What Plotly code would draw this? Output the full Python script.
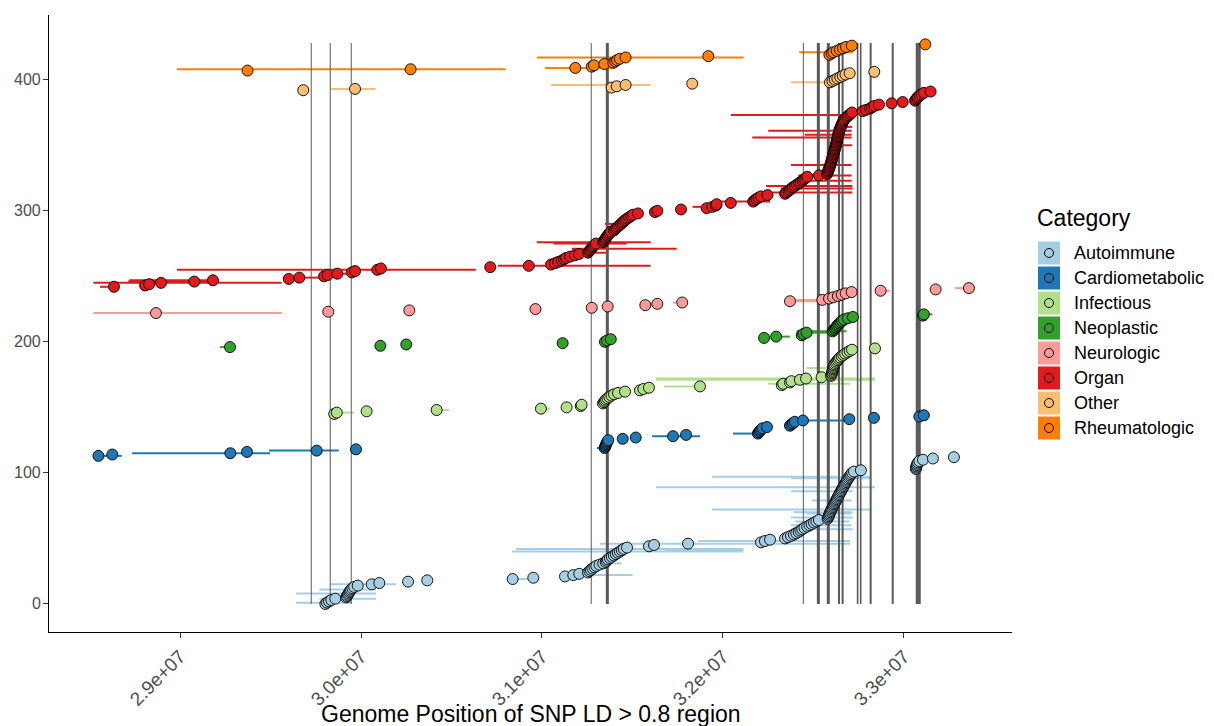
import plotly.graph_objects as go

# ---------------- data (positions in Mb; y = rank in category-sorted order) ----------------
categories = ["Autoimmune", "Cardiometabolic", "Infectious", "Neoplastic",
              "Neurologic", "Organ", "Other", "Rheumatologic"]
cat_colors = ["#A6CEE3", "#1F78B4", "#B2DF8A", "#33A02C",
              "#FB9A99", "#E31A1C", "#FDBF6F", "#FF7F00"]

auto_pos = [29.803, 29.812, 29.823, 29.836, 29.858,
            29.918, 29.922, 29.927, 29.931, 29.936, 29.940, 29.945, 29.952, 29.962, 29.982,
            30.059, 30.101, 30.260, 30.366,
            30.838, 30.952,
            31.127, 31.173, 31.206,
            31.254, 31.262, 31.270, 31.279, 31.290, 31.300, 31.318, 31.338,
            31.352, 31.358, 31.364, 31.375, 31.386, 31.397, 31.408, 31.419, 31.430, 31.441, 31.452, 31.470,
            31.591, 31.619, 31.807,
            32.210, 32.232, 32.260,
            32.343, 32.359, 32.376, 32.392, 32.405, 32.418, 32.428, 32.438, 32.450,
            32.465, 32.478, 32.490, 32.503, 32.516, 32.530,
            32.578, 32.581, 32.584, 32.587, 32.590, 32.593, 32.596, 32.600, 32.603, 32.607,
            32.611, 32.614, 32.618, 32.622, 32.626, 32.629, 32.633, 32.637, 32.641, 32.644,
            32.648, 32.652, 32.656, 32.660, 32.664, 32.668, 32.672, 32.676, 32.680, 32.684,
            32.688, 32.693, 32.698, 32.703, 32.708, 32.714,
            32.724, 32.762,
            33.066, 33.067, 33.069, 33.071, 33.074, 33.078, 33.085, 33.105,
            33.160, 33.276]
auto_seg = [(1, 29.641, 29.949), (4, 29.770, 30.083), (8, 29.641, 30.083), (11, 29.770, 30.083),
            (15, 29.833, 30.193), (19, 30.838, 30.952), (22, 31.243, 31.501), (31, 31.282, 31.440),
            (40, 30.834, 32.110), (41, 31.680, 32.116), (42, 30.856, 32.110), (46, 31.320, 32.702),
            (48, 31.862, 32.702), (57, 32.376, 32.717), (60, 32.376, 32.710), (63, 32.400, 32.700),
            (66, 32.376, 32.717), (69, 32.462, 32.710), (70, 32.390, 32.717), (72, 31.939, 32.812),
            (79, 32.490, 32.710), (86, 32.376, 32.717), (89, 31.630, 32.840), (96, 32.376, 32.812),
            (97, 31.939, 32.812)]

cardio_pos = [28.549, 28.626, 29.278, 29.370, 29.755, 29.972,
              31.346, 31.349, 31.352, 31.355, 31.358, 31.362, 31.366,
              31.446, 31.518, 31.724, 31.796,
              32.193, 32.198, 32.204, 32.210, 32.218, 32.243,
              32.370, 32.378, 32.387, 32.397, 32.442,
              32.698, 32.834, 33.085, 33.110]
cardio_seg = [(0, 28.547, 28.678), (2, 28.735, 29.497), (4, 29.492, 29.877), (6, 31.304, 31.346),
              (15, 31.608, 31.873), (17, 32.055, 32.204), (27, 32.440, 32.674), (31, 33.110, 33.135)]

inf_pos = [29.852, 29.866, 30.031, 30.418, 30.994, 31.136, 31.214, 31.219,
           31.337, 31.343, 31.348, 31.354, 31.362, 31.372, 31.384, 31.398, 31.420, 31.459,
           31.541, 31.560, 31.591, 31.873,
           32.325, 32.333, 32.370, 32.378, 32.425, 32.459, 32.545,
           32.597, 32.600, 32.602, 32.604, 32.606, 32.608, 32.610, 32.612, 32.614, 32.616,
           32.622, 32.628, 32.634, 32.640, 32.647, 32.656, 32.665, 32.675, 32.688, 32.700, 32.713,
           32.840]
inf_seg = [(1, 29.866, 29.961), (3, 30.418, 30.486), (4, 30.994, 31.044), (21, 31.674, 31.873),
           (23, 32.249, 32.702), (26, 31.630, 32.840), (27, 31.630, 32.840), (35, 32.462, 32.572)]

neo_pos = [29.276, 30.107, 30.250, 31.114, 31.348, 31.359, 31.380, 32.227, 32.294, 32.435, 32.444, 32.462,
           32.606, 32.612, 32.618, 32.624, 32.630, 32.636, 32.643, 32.650, 32.658, 32.668, 32.690, 32.718,
           33.105, 33.110]
neo_seg = [(0, 29.221, 29.276), (8, 32.294, 32.370), (11, 32.470, 32.591), (12, 32.407, 32.683),
           (25, 33.110, 33.157)]

neuro_pos = [28.867, 29.819, 30.267, 30.964, 31.275, 31.363, 31.571, 31.637, 31.775, 32.370,
             32.549, 32.586, 32.609, 32.635, 32.656, 32.678, 32.711, 32.871, 33.175, 33.359]
neuro_seg = [(0, 28.521, 29.562), (8, 31.724, 31.775), (9, 32.370, 32.525), (10, 32.392, 32.525),
             (17, 32.871, 32.923), (19, 33.282, 33.359)]

organ_pos = [28.635, 28.807, 28.830, 28.895, 29.079, 29.182, 29.601, 29.659, 29.796, 29.816,
             29.869, 29.949, 29.967, 30.090, 30.110, 30.714, 30.927,
             31.050, 31.072, 31.090, 31.109, 31.122, 31.133, 31.155, 31.182, 31.204,
             31.254, 31.260, 31.266, 31.272, 31.278, 31.284, 31.290, 31.298,
             31.337, 31.342, 31.348, 31.352, 31.357, 31.362, 31.368, 31.374, 31.381,
             31.398, 31.405, 31.412, 31.420, 31.428, 31.437, 31.444, 31.452, 31.460, 31.470,
             31.481, 31.492, 31.503, 31.530,
             31.624, 31.637, 31.768, 31.910, 31.941, 31.961, 31.965, 32.043,
             32.167, 32.175, 32.185, 32.196, 32.210, 32.246,
             32.343, 32.350, 32.362, 32.370, 32.378, 32.387, 32.398, 32.409, 32.420, 32.430,
             32.440, 32.448, 32.456, 32.466,
             32.530,
             32.575, 32.578, 32.580, 32.583, 32.586, 32.588, 32.591, 32.593, 32.596, 32.598,
             32.600, 32.602, 32.604, 32.606, 32.608, 32.610, 32.612, 32.614, 32.616, 32.618,
             32.620, 32.622, 32.624, 32.626, 32.627, 32.629, 32.631, 32.632, 32.634, 32.636,
             32.637, 32.639, 32.641, 32.643, 32.645, 32.648, 32.651, 32.654, 32.657, 32.660,
             32.663, 32.667, 32.672, 32.680, 32.688, 32.696, 32.705, 32.713,
             32.772, 32.790, 32.812, 32.823, 32.836, 32.862, 32.932, 32.993,
             33.061, 33.066, 33.073, 33.078, 33.088, 33.098, 33.110, 33.147]
organ_seg = [(0, 28.558, 28.635), (3, 28.521, 29.562), (4, 28.713, 29.215), (5, 28.720, 29.210),
             (7, 29.659, 29.829), (10, 29.829, 29.949), (13, 28.983, 30.634), (16, 30.757, 31.600),
             (26, 31.265, 31.357), (29, 31.164, 31.744), (33, 31.063, 31.468), (34, 30.971, 31.601),
             (48, 31.348, 31.420), (61, 31.832, 31.946), (65, 31.946, 32.260), (72, 32.241, 32.715),
             (75, 32.320, 32.717), (77, 32.238, 32.715), (81, 32.416, 32.711), (85, 32.416, 32.711),
             (93, 32.376, 32.711), (108, 32.646, 32.714), (114, 32.162, 32.711), (116, 32.453, 32.711),
             (119, 32.250, 32.711), (122, 32.630, 32.714), (131, 32.044, 32.711), (135, 32.790, 32.823)]

other_pos = [29.681, 29.967, 31.385, 31.413, 31.462, 31.830,
             32.591, 32.605, 32.618, 32.632, 32.648, 32.662, 32.677, 32.700, 32.836]
other_seg = [(1, 29.834, 30.081), (4, 31.050, 31.600), (6, 32.376, 32.591)]

rheum_pos = [29.373, 30.274, 31.184, 31.275, 31.287, 31.344, 31.394, 31.405, 31.415, 31.430, 31.462, 31.919,
             32.588, 32.600, 32.610, 32.628, 32.646, 32.663, 32.680, 32.712, 33.118]
rheum_seg = [(1, 28.983, 30.799), (2, 31.017, 31.403), (10, 30.972, 32.114),
             (14, 32.421, 32.717)]

# reference SNP positions (vertical lines) and their drawn widths
vline_pos = [29.725, 29.830, 29.946, 31.272, 31.361, 32.444, 32.527, 32.582,
             32.641, 32.661, 32.744, 32.761, 32.816, 32.938, 33.079]
vline_width = [1, 1, 1, 1, 3, 1, 3, 3, 2, 2, 1.6, 1.6, 2, 2, 5]

x_ticks = [29e6, 30e6, 31e6, 32e6, 33e6]
x_tick_labels = ["2.9e+07", "3.0e+07", "3.1e+07", "3.2e+07", "3.3e+07"]
y_ticks = [0, 100, 200, 300, 400]

groups = [auto_pos, cardio_pos, inf_pos, neo_pos, neuro_pos, organ_pos, other_pos, rheum_pos]
seg_groups = [auto_seg, cardio_seg, inf_seg, neo_seg, neuro_seg, organ_seg, other_seg, rheum_seg]

MB = 1e6
fig = go.Figure()

# y = running rank
starts = []
s = 0
for g in groups:
    starts.append(s)
    s += len(g)
n_total = s

# segments (LD regions)
for name, col, pos, segs, st in zip(categories, cat_colors, groups, seg_groups, starts):
    xs, ys = [], []
    for idx, lo, hi in segs:
        xs += [lo * MB, hi * MB, None]
        ys += [st + idx, st + idx, None]
    fig.add_trace(go.Scatter(x=xs, y=ys, mode="lines", line=dict(color=col, width=2),
                             showlegend=False, hoverinfo="skip"))

# vertical lines
for p, w in zip(vline_pos, vline_width):
    fig.add_trace(go.Scatter(x=[p * MB, p * MB], y=[0, n_total], mode="lines",
                             line=dict(color="#5a5a5a", width=w),
                             showlegend=False, hoverinfo="skip"))

# points
for name, col, pos, st in zip(categories, cat_colors, groups, starts):
    fig.add_trace(go.Scatter(x=[p * MB for p in pos], y=list(range(st, st + len(pos))),
                             mode="markers", name=name,
                             marker=dict(size=11, color=col, line=dict(color="black", width=0.9)),
                             showlegend=False))

# ---------------- layout ----------------
L, R, T, B = 49, 1012, 15, 632
W, H = 1214, 726


def px_x(px):
    return (px - L) / (R - L)


def px_y(py):
    return (B - py) / (B - T)


FONT = "Liberation Sans, Arial, sans-serif"
fig.update_layout(
    width=W, height=H, autosize=False,
    margin=dict(l=L, r=W - R, t=T, b=H - B, pad=0),
    paper_bgcolor="white", plot_bgcolor="white",
    font=dict(family=FONT, color="black"),
    xaxis=dict(range=[28.276e6, 33.597e6], showgrid=False, zeroline=False,
               showline=True, linecolor="black", linewidth=1.1,
               ticks="outside", ticklen=5, tickwidth=1.1, tickcolor="#333333",
               tickvals=x_ticks, ticktext=x_tick_labels, tickangle=-45,
               tickfont=dict(size=19, color="#4d4d4d", family=FONT)),
    yaxis=dict(range=[-21.4, 449.4], showgrid=False, zeroline=False,
               showline=True, linecolor="black", linewidth=1.1,
               ticks="outside", ticklen=5, tickwidth=1.1, tickcolor="#333333",
               tickvals=y_ticks, showticklabels=False),
    showlegend=False,
)

# y tick labels placed next to the ticks
for v in y_ticks:
    fig.add_annotation(text=str(v), xref="paper", yref="y", x=px_x(43), y=v,
                       xanchor="right", yanchor="middle", showarrow=False,
                       font=dict(size=16, family=FONT, color="#4d4d4d"))

# x-axis title
fig.add_annotation(text="Genome Position of SNP LD > 0.8 region", xref="paper", yref="paper",
                   x=0.5, y=px_y(714), xanchor="center", yanchor="middle", showarrow=False,
                   font=dict(size=23, family=FONT, color="black"))

# manual legend (ggplot style keys)
fig.add_annotation(text="Category", xref="paper", yref="paper",
                   x=px_x(1035), y=px_y(218), xanchor="left", yanchor="middle", showarrow=False,
                   font=dict(size=23, family=FONT, color="black"))
key_w, key_h, row_h = 22, 23, 25
for i, (name, col) in enumerate(zip(categories, cat_colors)):
    cy = 253 + i * row_h
    fig.add_shape(type="rect", xref="paper", yref="paper",
                  x0=px_x(1038), x1=px_x(1038 + key_w), y0=px_y(cy - key_h / 2), y1=px_y(cy + key_h / 2),
                  fillcolor=col, line=dict(width=0))
    fig.add_shape(type="circle", xref="paper", yref="paper",
                  x0=px_x(1049 - 4.5), x1=px_x(1049 + 4.5), y0=px_y(cy - 4.5), y1=px_y(cy + 4.5),
                  fillcolor="rgba(0,0,0,0)", line=dict(color="black", width=1))
    fig.add_annotation(text=name, xref="paper", yref="paper",
                       x=px_x(1072), y=px_y(cy), xanchor="left", yanchor="middle", showarrow=False,
                       font=dict(size=18, family=FONT, color="black"))

fig.write_html("out.html", config={"displayModeBar": False},
               post_script="document.body.style.margin='0px';")
